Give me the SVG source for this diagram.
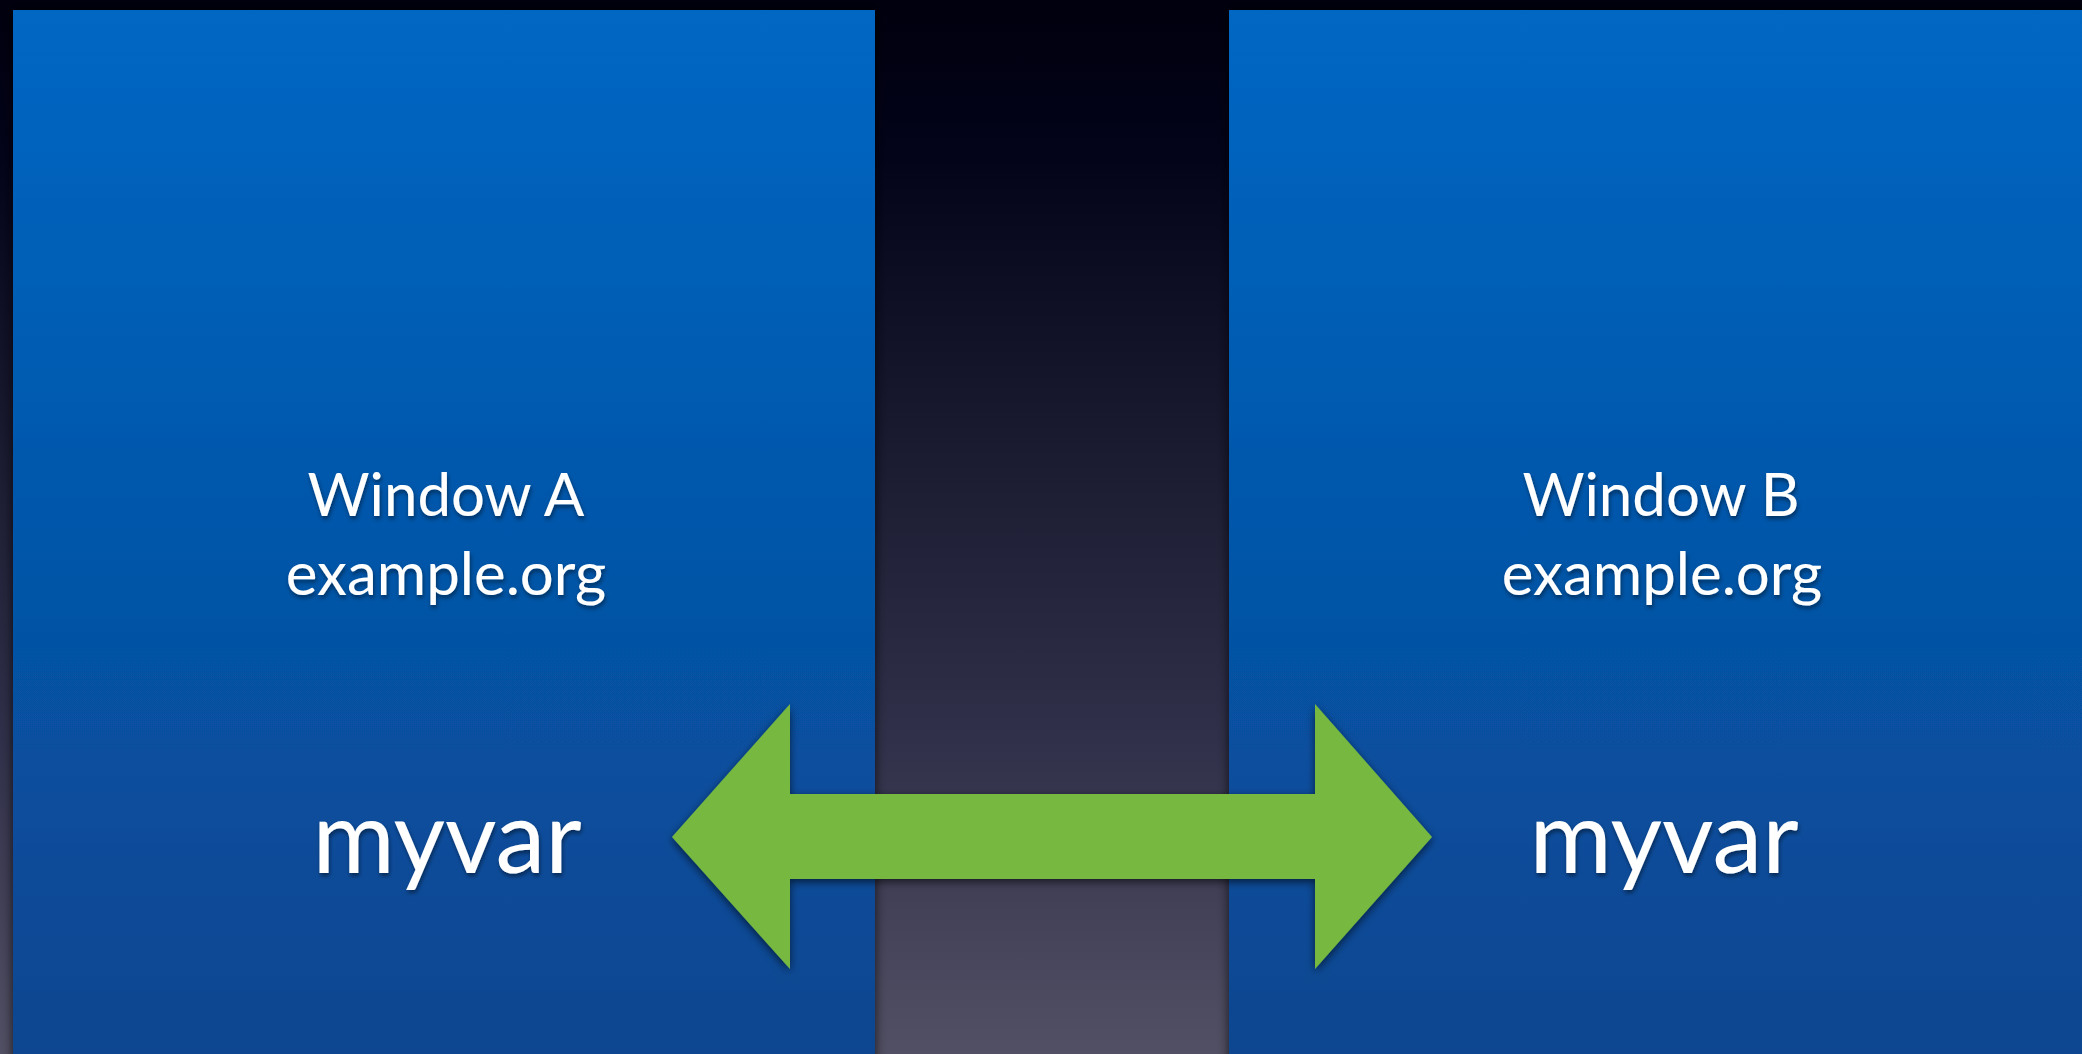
<svg xmlns="http://www.w3.org/2000/svg" width="2082" height="1054" viewBox="0 0 2082 1054">
  <defs>
    <linearGradient id="bg" x1="0" y1="0" x2="0" y2="1">
      <stop offset="0" stop-color="#00000e"/>
      <stop offset="0.15" stop-color="#03031a"/>
      <stop offset="0.4" stop-color="#18182e"/>
      <stop offset="0.7" stop-color="#30304a"/>
      <stop offset="1" stop-color="#525064"/>
    </linearGradient>
    <linearGradient id="panel" x1="0" y1="0" x2="0" y2="1">
      <stop offset="0" stop-color="#0067c3"/>
      <stop offset="1" stop-color="#0a458f"/>
    </linearGradient>
    <filter id="pshadow" x="-10%" y="-10%" width="120%" height="120%">
      <feDropShadow dx="0" dy="0" stdDeviation="6" flood-color="#000" flood-opacity="0.7"/>
    </filter>
    <filter id="ashadow" x="-10%" y="-10%" width="120%" height="130%">
      <feDropShadow dx="0" dy="3" stdDeviation="4" flood-color="#000" flood-opacity="0.6"/>
    </filter>
    <filter id="tshadow" x="-10%" y="-20%" width="120%" height="140%">
      <feDropShadow dx="1" dy="3" stdDeviation="2" flood-color="#000" flood-opacity="0.45"/>
    </filter>
  </defs>
  <style>
    .t { font-family: Lato, "Open Sans", "Liberation Sans", sans-serif; fill: #ffffff; text-anchor: middle; filter: url(#tshadow); }
    .s { font-size: 60px; }
    .b { font-size: 100px; }
  </style>
  <rect x="0" y="0" width="2082" height="1054" fill="url(#bg)"/>
  <g id="windowA">
    <rect x="13" y="10" width="862" height="1060" fill="url(#panel)" filter="url(#pshadow)"/>
    <text class="t s" x="446" y="516">Window A</text>
    <text class="t s" x="446" y="595">example.org</text>
    <text class="t b" x="447" y="873">myvar</text>
  </g>
  <g id="windowB">
    <rect x="1229" y="10" width="870" height="1060" fill="url(#panel)" filter="url(#pshadow)"/>
    <text class="t s" x="1661" y="516">Window B</text>
    <text class="t s" x="1662" y="595">example.org</text>
    <text class="t b" x="1664" y="873">myvar</text>
  </g>
  <g id="connectors">
    <polygon points="672,837 790,704 790,794 1315,794 1315,704 1432,837 1315,969 1315,879 790,879 790,969" fill="#77b93f" filter="url(#ashadow)"/>
  </g>
</svg>
